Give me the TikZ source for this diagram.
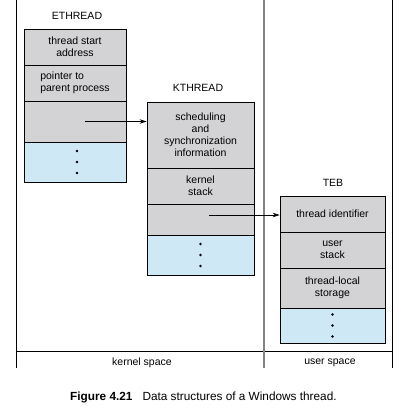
\documentclass[tikz,border=0pt]{standalone}
\usepackage{fontspec}
\setmainfont{Liberation Sans}
\usetikzlibrary{arrows.meta,calc}
\definecolor{cellgray}{RGB}{211,211,213}
\definecolor{cellblue}{RGB}{206,232,246}
\definecolor{sepgray}{RGB}{130,130,130}
\tikzset{
  cell/.style={draw=black, line width=0.7pt, fill=cellgray, inner sep=0pt, align=center,
     font=\fontsize{10.5}{12}\selectfont},
  bluecell/.style={cell, fill=cellblue},
  title/.style={font=\fontsize{10.5}{12}\selectfont},
  captionstyle/.style={font=\fontsize{11.8}{14}\selectfont, anchor=west},
  frame/.style={line width=0.8pt, black},
  conn/.style={line width=0.7pt, -{Stealth[length=7pt,width=4.5pt]}},
  dotmark/.style={fill=black, draw=none}
}
\begin{document}
\begin{tikzpicture}[x=1pt,y=-1pt]
\useasboundingbox (0,0) rectangle (413,410);
% frame
\draw[frame] (16,0) -- (16,368);
\draw[frame] (392,0) -- (392,368);
\draw[frame] (16,351) -- (392,351);
\draw[line width=1.4pt, sepgray] (264,0) -- (264,368);
% ETHREAD
\node[title] (eth) at (77,16) {ETHREAD};
\node[cell, minimum width=102pt, minimum height=36pt] (e1) at (75,47) {thread start\\address};
\node[cell, minimum width=102pt, minimum height=36pt, align=left] (e2) at (75,83) {pointer to\\parent process};
\node[cell, minimum width=102pt, minimum height=41pt] (e3) at (75,121.5) {};
\node[bluecell, minimum width=102pt, minimum height=40pt] (e4) at (75,162) {};
\foreach \d in {-11,0,11} \fill[dotmark] ($(e4.center)+(2,\d)$) circle (1.4);
% KTHREAD
\node[title] (kth) at (198,88) {KTHREAD};
\node[cell, minimum width=107pt, minimum height=66pt] (k1) at (200.5,135) {scheduling\\and\\synchronization\\information};
\node[cell, minimum width=107pt, minimum height=36pt] (k2) at (200.5,186) {kernel\\stack};
\node[cell, minimum width=107pt, minimum height=31pt] (k3) at (200.5,219.5) {};
\node[bluecell, minimum width=107pt, minimum height=40pt] (k4) at (200.5,255) {};
\foreach \d in {-11,0,11} \fill[dotmark] ($(k4.center)+(0,\d)$) circle (1.4);
% TEB
\node[title] (teb) at (333,183) {TEB};
\node[cell, minimum width=105pt, minimum height=36pt] (b1) at (332.5,214) {thread identifier};
\node[cell, minimum width=105pt, minimum height=36pt] (b2) at (332.5,250) {user\\stack};
\node[cell, minimum width=105pt, minimum height=40pt] (b3) at (332.5,288) {thread-local\\storage};
\node[bluecell, minimum width=105pt, minimum height=35pt] (b4) at (332.5,325.5) {};
\foreach \d in {-11,0,11} \fill[dotmark] ($(b4.center)+(0,\d)$) circle (1.4);
% connectors
\coordinate (t1) at ($(e3.center)+(10,0)$);
\coordinate (t2) at ($(k3.center)+(8.5,-4.5)$);
\draw[conn] (t1) -- (t1 -| k1.west);
\draw[conn] (t2) -- (t2 -| b1.west);
% space labels
\node[title] (ks) at (142,363) {kernel space};
\node[title] (us) at (330,363) {user space};
% caption
\node[captionstyle, inner sep=0pt] (cap) at (70,397) {\textbf{Figure 4.21}\hspace{10pt}Data structures of a Windows thread.};
\end{tikzpicture}
\end{document}
